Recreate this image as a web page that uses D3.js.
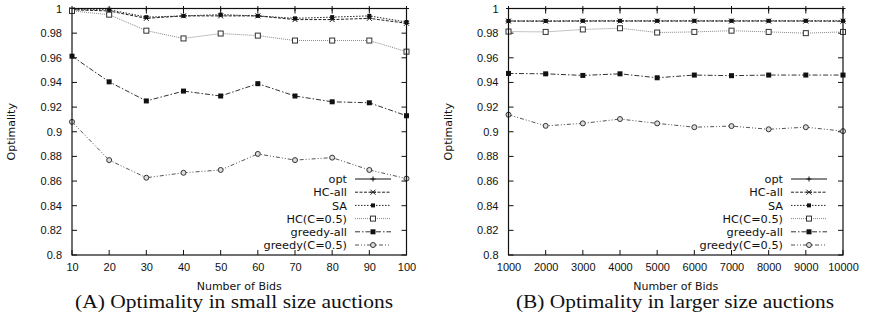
<!DOCTYPE html>
<html>
<head>
<meta charset="utf-8">
<script src="https://cdn.jsdelivr.net/npm/d3@7"></script>
<style>
  body { margin: 0; background: #fff; }
  svg { display: block; }
  .tick-label { font-family: "Liberation Sans", Arial, sans-serif; font-size: 11px; fill: #111; }
  .axis-title { font-family: "DejaVu Sans", sans-serif; font-size: 11px; fill: #111; }
  .legend-text { font-family: "DejaVu Sans", sans-serif; font-size: 11.3px; fill: #111; }
  .caption { font-family: "Liberation Serif", "Times New Roman", serif; font-size: 18.5px; fill: #111; }
</style>
</head>
<body>
<div class="chart"></div>
<script>
const WIDTH = 869;
const HEIGHT = 325;

const SERIES_NAMES = ["opt", "HC-all", "SA", "HC(C=0.5)", "greedy-all", "greedy(C=0.5)"];
const Y_TICKS = [0.8, 0.82, 0.84, 0.86, 0.88, 0.9, 0.92, 0.94, 0.96, 0.98, 1];

// (A) small size auctions
const SMALL_BIDS = [10, 20, 30, 40, 50, 60, 70, 80, 90, 100];
const SMALL_OPT = [1, 1, 1, 1, 1, 1, 1, 1, 1, 1];
const SMALL_HC_ALL = [0.999, 0.998, 0.992, 0.994, 0.994, 0.994, 0.991, 0.991, 0.992, 0.988];
const SMALL_SA = [0.999, 0.999, 0.993, 0.994, 0.995, 0.994, 0.992, 0.993, 0.994, 0.989];
const SMALL_HC_05 = [0.998, 0.995, 0.982, 0.9757, 0.9797, 0.978, 0.974, 0.974, 0.974, 0.965];
const SMALL_GREEDY_ALL = [0.9613, 0.9405, 0.925, 0.933, 0.929, 0.939, 0.929, 0.9243, 0.9235, 0.913];
const SMALL_GREEDY_05 = [0.908, 0.877, 0.8627, 0.8667, 0.869, 0.882, 0.877, 0.879, 0.869, 0.862];

// (B) larger size auctions
const LARGE_BIDS = [1000, 2000, 3000, 4000, 5000, 6000, 7000, 8000, 9000, 10000];
const LARGE_OPT = [1, 1, 1, 1, 1, 1, 1, 1, 1, 1];
const LARGE_HC_ALL = [0.9898, 0.9897, 0.9898, 0.9898, 0.9898, 0.9898, 0.9898, 0.9898, 0.9898, 0.9897];
const LARGE_SA = [0.9899, 0.9899, 0.99, 0.99, 0.99, 0.99, 0.99, 0.99, 0.99, 0.99];
const LARGE_HC_05 = [0.9813, 0.981, 0.983, 0.984, 0.9805, 0.981, 0.982, 0.981, 0.980, 0.981];
const LARGE_GREEDY_ALL = [0.9473, 0.947, 0.9457, 0.947, 0.9438, 0.946, 0.9455, 0.946, 0.946, 0.946];
const LARGE_GREEDY_05 = [0.9138, 0.9048, 0.9068, 0.9103, 0.9068, 0.9037, 0.9046, 0.902, 0.9037, 0.9005];

// line / marker styles, one per series
const STYLES = [
  { stroke: "#111", dash: null, marker: "plus" },
  { stroke: "#222", dash: "3,1.5", marker: "cross" },
  { stroke: "#222", dash: "1.5,1.5", marker: "smallSquare" },
  { stroke: "#888", dash: "1,1", marker: "openSquare" },
  { stroke: "#333", dash: "5,2,1.5,2", marker: "filledSquare" },
  { stroke: "#555", dash: "4,2,1,2,1,2", marker: "openCircle" }
];

const svg = d3.select(".chart").append("svg")
  .attr("width", WIDTH)
  .attr("height", HEIGHT)
  .style("background", "#fff");

function drawMarker(g, type, x, y, color) {
  if (type === "plus") {
    g.append("path").attr("d", `M${x - 2.5},${y}H${x + 2.5}M${x},${y - 2.5}V${y + 2.5}`)
      .attr("stroke", color).attr("stroke-width", 1);
  } else if (type === "cross") {
    g.append("path")
      .attr("d", `M${x - 2.5},${y - 2.5}L${x + 2.5},${y + 2.5}M${x - 2.5},${y + 2.5}L${x + 2.5},${y - 2.5}M${x - 3},${y}H${x + 3}`)
      .attr("stroke", color).attr("stroke-width", 1);
  } else if (type === "smallSquare") {
    g.append("rect").attr("x", x - 2).attr("y", y - 2).attr("width", 4).attr("height", 4).attr("fill", "#111");
  } else if (type === "openSquare") {
    g.append("rect").attr("x", x - 2.5).attr("y", y - 2.5).attr("width", 5).attr("height", 5)
      .attr("fill", "#fff").attr("stroke", "#333").attr("stroke-width", 1);
  } else if (type === "filledSquare") {
    g.append("rect").attr("x", x - 2.5).attr("y", y - 2.5).attr("width", 5).attr("height", 5).attr("fill", "#111");
  } else if (type === "openCircle") {
    g.append("circle").attr("cx", x).attr("cy", y).attr("r", 2.5)
      .attr("fill", "#ddd").attr("stroke", "#333").attr("stroke-width", 1);
  }
}

function drawPanel(p) {
  const g = svg.append("g");
  const xScale = d3.scaleLinear().domain(d3.extent(p.bids)).range([p.left, p.right]);
  const yScale = d3.scaleLinear().domain([0.8, 1]).range([p.bottom, p.top]);

  // tick labels
  const xAxis = g.append("g")
    .attr("transform", `translate(0, ${p.bottom})`)
    .call(d3.axisBottom(xScale).tickValues(p.bids).tickFormat(d3.format("d")).tickSize(0).tickPadding(8));
  xAxis.select(".domain").remove();
  xAxis.selectAll("text").attr("class", "tick-label").attr("font-size", null).attr("font-family", null);

  const yAxis = g.append("g")
    .attr("transform", `translate(${p.left}, 0)`)
    .call(d3.axisLeft(yScale).tickValues(Y_TICKS).tickFormat(d3.format("~g")).tickSize(0).tickPadding(10));
  yAxis.select(".domain").remove();
  yAxis.selectAll("text").attr("class", "tick-label").attr("font-size", null).attr("font-family", null);

  // inward ticks on all four sides
  const TL = 5;
  const ticks = g.append("g").attr("stroke", "#111").attr("stroke-width", 1);
  p.bids.forEach(v => {
    const x = xScale(v);
    ticks.append("line").attr("x1", x).attr("x2", x).attr("y1", p.bottom).attr("y2", p.bottom - TL);
    ticks.append("line").attr("x1", x).attr("x2", x).attr("y1", p.top).attr("y2", p.top + TL);
  });
  Y_TICKS.forEach(v => {
    const y = yScale(v);
    ticks.append("line").attr("x1", p.left).attr("x2", p.left + TL).attr("y1", y).attr("y2", y);
    ticks.append("line").attr("x1", p.right).attr("x2", p.right - TL).attr("y1", y).attr("y2", y);
  });

  // series
  const line = d3.line().x(d => xScale(d[0])).y(d => yScale(d[1]));
  p.series.forEach((vals, i) => {
    const st = STYLES[i];
    const pts = p.bids.map((b, j) => [b, vals[j]]);
    g.append("path").datum(pts)
      .attr("d", line)
      .attr("fill", "none")
      .attr("stroke", st.stroke)
      .attr("stroke-width", 1)
      .attr("stroke-dasharray", st.dash);
    pts.forEach(d => drawMarker(g, st.marker, xScale(d[0]), yScale(d[1]), st.stroke));
  });

  // frame
  g.append("rect")
    .attr("x", p.left).attr("y", p.top)
    .attr("width", p.right - p.left).attr("height", p.bottom - p.top)
    .attr("fill", "none").attr("stroke", "#111").attr("stroke-width", 1.2);

  // legend
  const legend = g.append("g");
  SERIES_NAMES.forEach((name, i) => {
    const y = p.legendTop + i * 13.2;
    const st = STYLES[i];
    legend.append("text").attr("class", "legend-text")
      .attr("x", p.legendX).attr("y", y + 4.2)
      .attr("text-anchor", "end")
      .text(name);
    legend.append("line")
      .attr("x1", p.legendX + 8).attr("x2", p.legendX + 44)
      .attr("y1", y).attr("y2", y)
      .attr("stroke", st.stroke).attr("stroke-width", 1)
      .attr("stroke-dasharray", st.dash);
    drawMarker(legend, st.marker, p.legendX + 26, y, st.stroke);
  });

  // axis titles
  g.append("text").attr("class", "axis-title")
    .attr("transform", `translate(${p.left - 57}, ${(p.top + p.bottom) / 2}) rotate(-90)`)
    .attr("text-anchor", "middle")
    .text("Optimality");
  g.append("text").attr("class", "axis-title")
    .attr("x", (p.left + p.right) / 2).attr("y", 290)
    .attr("text-anchor", "middle")
    .text("Number of Bids");

  // caption
  g.append("text").attr("class", "caption")
    .attr("x", p.captionX).attr("y", 308)
    .attr("text-anchor", "middle")
    .attr("textLength", 318)
    .attr("lengthAdjust", "spacingAndGlyphs")
    .text(p.caption);
}

drawPanel({
  bids: SMALL_BIDS,
  series: [SMALL_OPT, SMALL_HC_ALL, SMALL_SA, SMALL_HC_05, SMALL_GREEDY_ALL, SMALL_GREEDY_05],
  left: 72, right: 406.5, top: 8.5, bottom: 255,
  legendX: 347, legendTop: 179,
  captionX: 234,
  caption: "(A) Optimality in small size auctions"
});

drawPanel({
  bids: LARGE_BIDS,
  series: [LARGE_OPT, LARGE_HC_ALL, LARGE_SA, LARGE_HC_05, LARGE_GREEDY_ALL, LARGE_GREEDY_05],
  left: 508.5, right: 843, top: 8.5, bottom: 255,
  legendX: 783, legendTop: 179,
  captionX: 675,
  caption: "(B) Optimality in larger size auctions"
});
</script>
</body>
</html>
